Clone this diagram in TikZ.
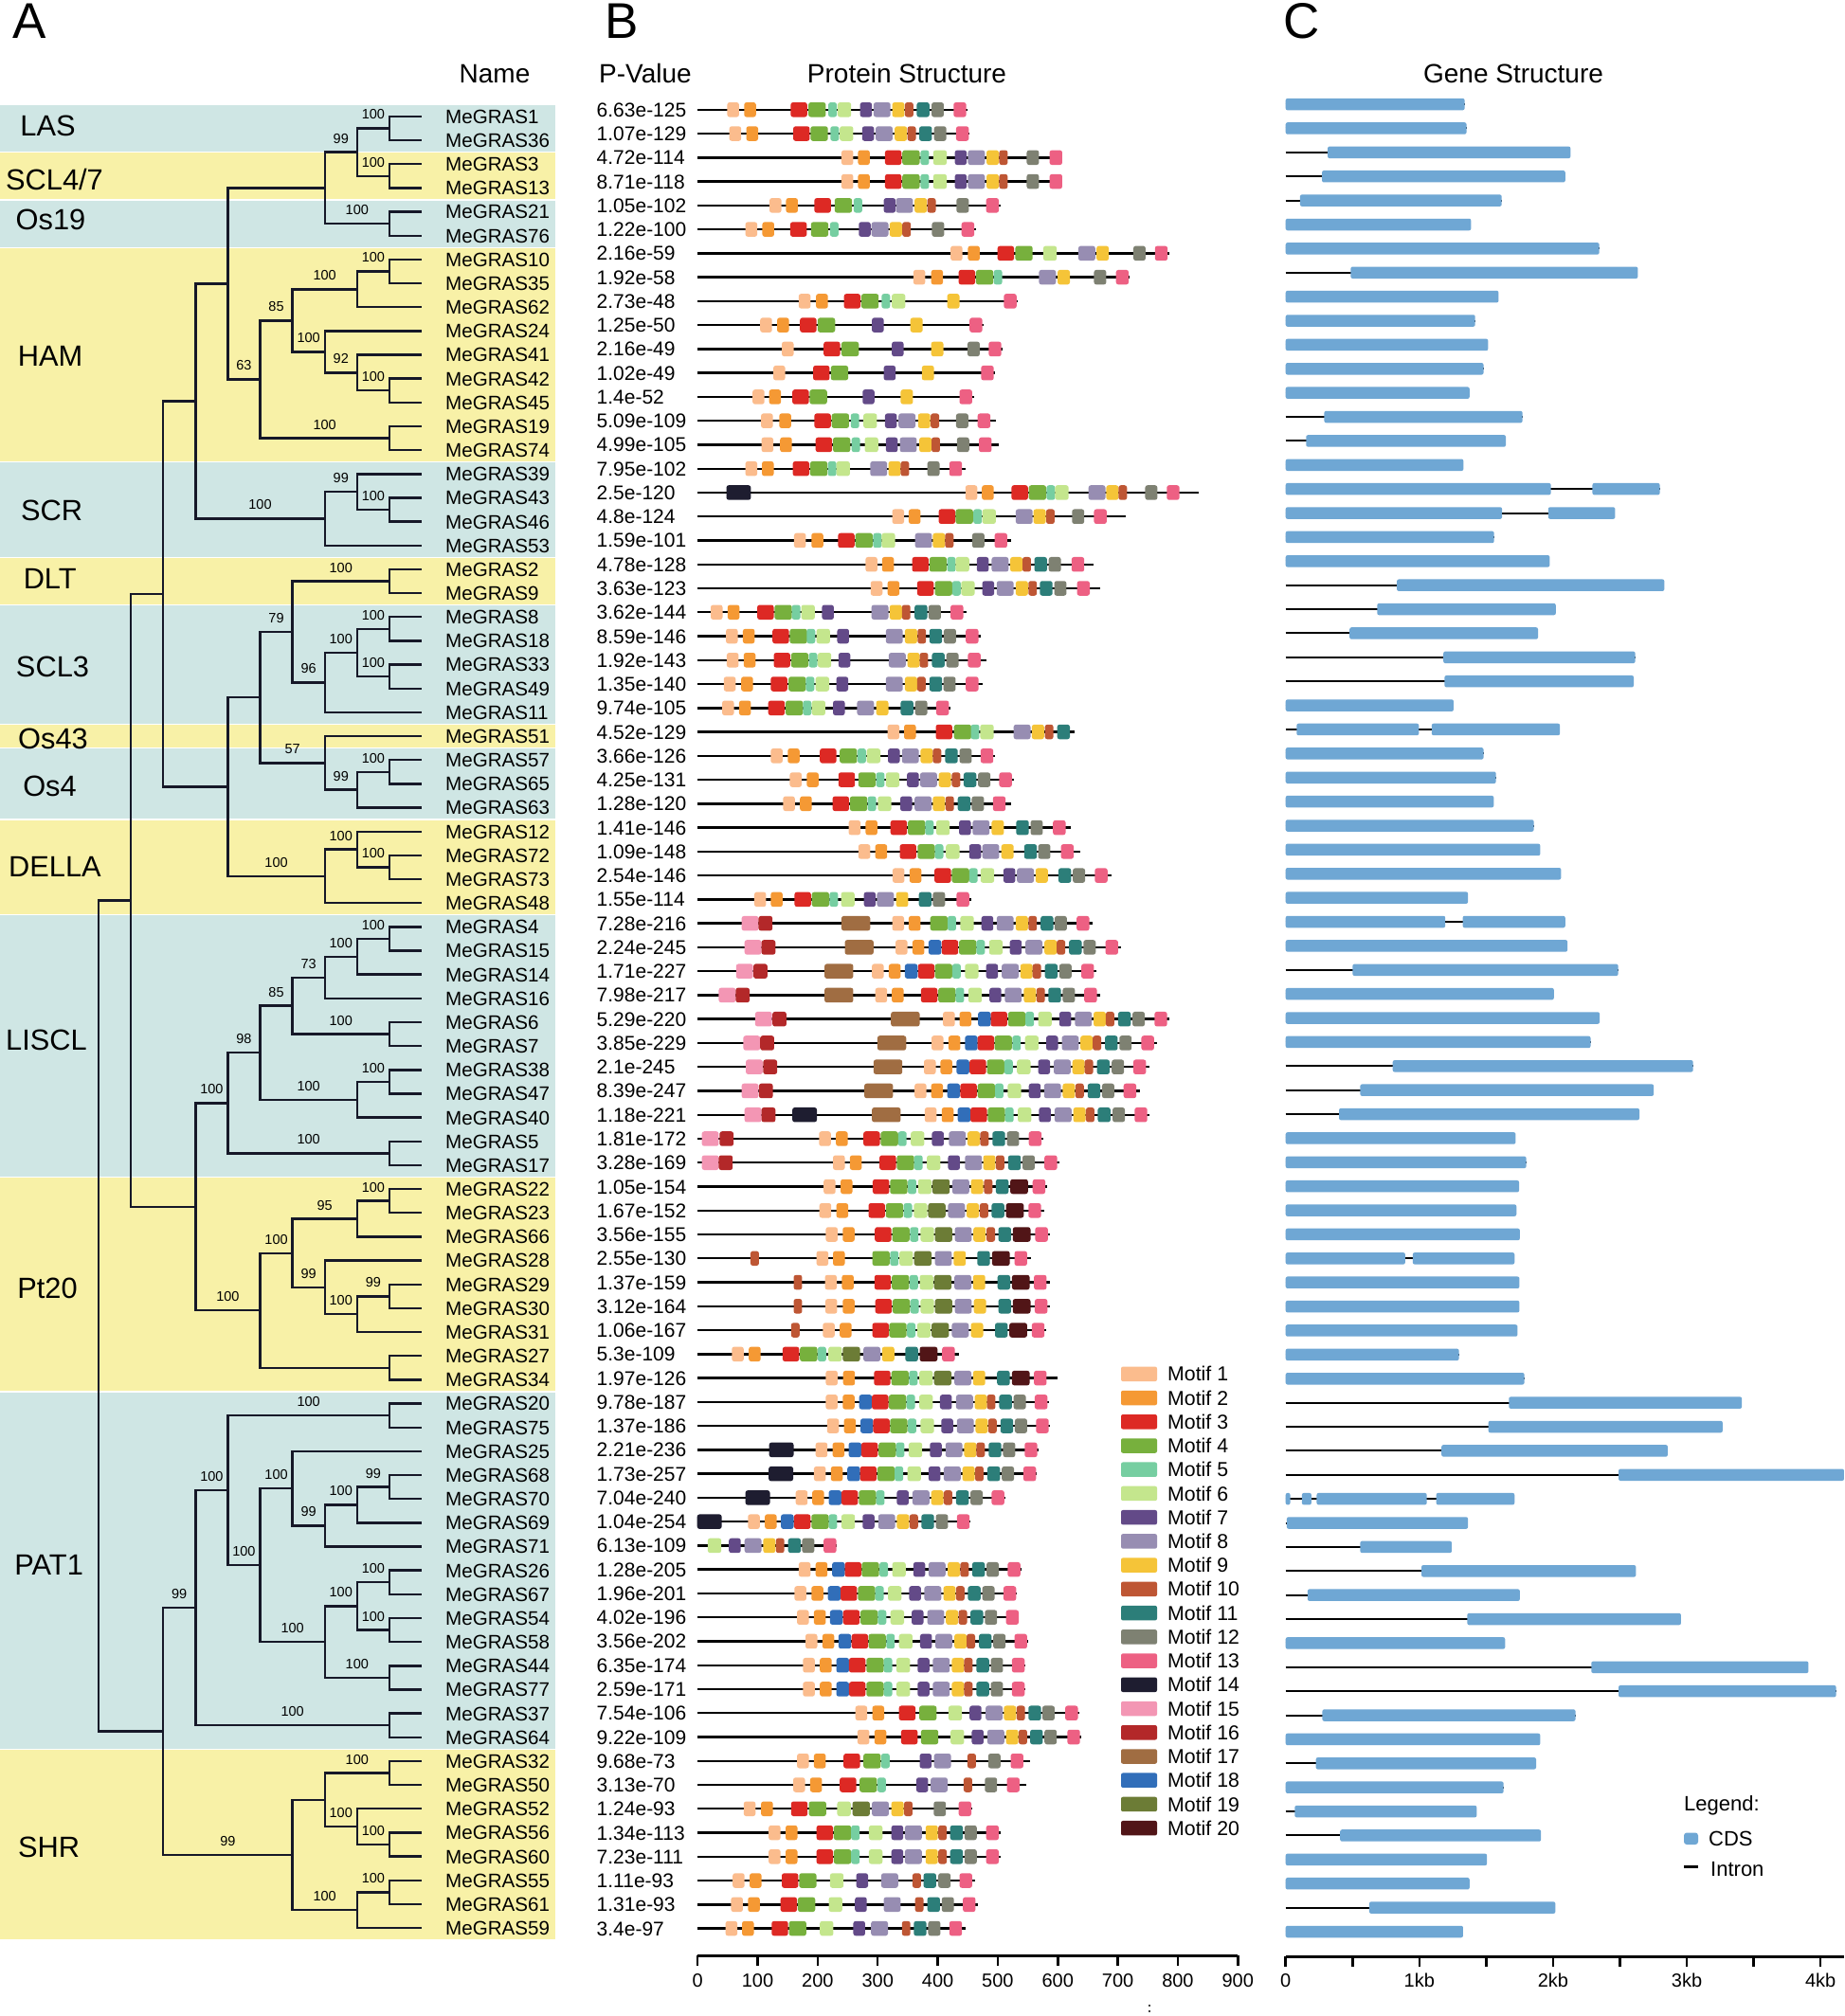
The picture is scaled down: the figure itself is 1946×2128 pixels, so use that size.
\documentclass[tikz,border=0pt]{standalone}
\usepackage{fontspec}
\setmainfont{Liberation Sans}
\definecolor{bandb}{RGB}{207,230,228}
\definecolor{bandy}{RGB}{248,241,167}
\definecolor{treec}{RGB}{22,24,40}
\definecolor{cdsc}{RGB}{111,167,212}
\definecolor{mc1}{RGB}{251,188,141}
\definecolor{mc2}{RGB}{245,153,52}
\definecolor{mc3}{RGB}{221,41,36}
\definecolor{mc4}{RGB}{119,176,61}
\definecolor{mc5}{RGB}{118,206,161}
\definecolor{mc6}{RGB}{196,230,141}
\definecolor{mc7}{RGB}{99,74,136}
\definecolor{mc8}{RGB}{151,141,178}
\definecolor{mc9}{RGB}{245,196,56}
\definecolor{mc10}{RGB}{190,86,52}
\definecolor{mc11}{RGB}{44,126,121}
\definecolor{mc12}{RGB}{126,129,114}
\definecolor{mc13}{RGB}{237,96,131}
\definecolor{mc14}{RGB}{30,29,48}
\definecolor{mc15}{RGB}{243,150,180}
\definecolor{mc16}{RGB}{179,40,41}
\definecolor{mc17}{RGB}{160,109,66}
\definecolor{mc18}{RGB}{49,110,185}
\definecolor{mc19}{RGB}{108,124,54}
\definecolor{mc20}{RGB}{81,21,23}
\newcommand\TNd[3]{\coordinate (#1) at ({Lx(#2)},{yN(#3)});}
\newcommand\TBr[3]{\draw[tree] (#1) -| (#2) |- (#3);}
\newcommand\TBl[4]{\node[bs] at ({(Lx(#1)+Lx(#2))/2},{yN(#3)-14.5}) {#4};}
\newcommand\ProtRow[3]{%
  \draw[pline] (736.2,{yP(#1)}) -- ({600+#2/2.24},{yP(#1)});
  \foreach \dx/\m in {#3}{%
    \pgfmathsetmacro\mw{{28,28,39,41,20,32,28,40,29,20,30,29,30,58,40,33,68,30,41,42}[\m-1]}%
    \fill[mc\m, rounded corners=2.5pt] ({600+\dx/2.24},{yP(#1)-7.75}) rectangle ++({\mw/2.24},15.5);
  }%
}
\newcommand\GeneRow[3]{%
  \draw[intronline] (1356.7,{yG(#1)}) -- ({1320+#2/2.505},{yG(#1)});
  \foreach \ga/\gb in {#3}{%
    \fill[cdsc, rounded corners=2pt] ({1320+\ga/2.505},{yG(#1)-6.25}) rectangle ({1320+\gb/2.505},{yG(#1)+6.25});
  }%
}
\begin{document}
\begin{tikzpicture}[x=1pt,y=-1pt,
  declare function={yN(\i)=122.9+25.16*\i; yP(\i)=115.8+25.26*\i; yG(\i)=110.1+25.38*\i; Lx(\k)=104+34.1*\k;},
  tree/.style={line width=2.4pt, draw=treec},
  pline/.style={line width=2.4pt, draw=black},
  intronline/.style={line width=2pt, draw=black},
  nm/.style={anchor=base west, inner sep=0pt, font=\fontsize{20.6}{22}\selectfont},
  pv/.style={anchor=base west, inner sep=0pt, font=\fontsize{21}{22}\selectfont},
  clab/.style={anchor=base, inner sep=0pt, font=\fontsize{30.8}{32}\selectfont},
  bs/.style={inner sep=0pt, font=\fontsize{14.5}{15}\selectfont},
  hdr/.style={anchor=base, inner sep=0pt, font=\fontsize{28}{30}\selectfont},
  panel/.style={anchor=base west, inner sep=0pt, font=\fontsize{53}{55}\selectfont},
  axl/.style={anchor=base, inner sep=0pt, font=\fontsize{20}{22}\selectfont},
  ml/.style={anchor=base west, inner sep=0pt, font=\fontsize{21.3}{23}\selectfont},
  gl/.style={anchor=base west, inner sep=0pt, font=\fontsize{22}{24}\selectfont},
  axisline/.style={line width=3pt, draw=black}]
\useasboundingbox (0,0) rectangle (1946,2128);
\fill[white] (0,0) rectangle (1946,2128);
% bands
\foreach \a/\b/\c in {0/1/bandb,2/3/bandy,4/5/bandb,6/14/bandy,15/18/bandb,19/20/bandy,21/25/bandb,26/26/bandy,27/29/bandb,30/33/bandy,34/44/bandb,45/53/bandy,54/68/bandb,69/76/bandy}{
  \fill[\c] (0,{yN(\a)-11.9}) rectangle (586,{yN(\b)+11.9});
}
% clade labels
\foreach \t/\x/\y in {LAS/50.5/132,SCL4{/}7/57.5/189,Os19/53.5/231.5,HAM/53/375,SCR/54.6/538,DLT/52.7/610,SCL3/55.5/703,Os43/56/779,Os4/52.5/829,DELLA/58/914.7,LISCL/49/1097.5,Pt20/50/1359,PAT1/51.7/1651,SHR/51.7/1949.5}{
  \node[clab] at (\x,{\y+11}) {\t};
}
% panel letters and headers
\node[panel] (pA) at (13.5,40.7) {A};
\node[panel] (pB) at (638,40.7) {B};
\node[panel] (pC) at (1354,40.7) {C};
\node[hdr] (hName) at (522,87.5) {Name};
\node[hdr] (hPV) at (681,87.5) {P-Value};
\node[hdr] (hPS) at (957,87.5) {Protein Structure};
\node[hdr] (hGS) at (1597,87.5) {Gene Structure};
% names
\foreach \n [count=\i from 0] in {MeGRAS1,MeGRAS36,MeGRAS3,MeGRAS13,MeGRAS21,MeGRAS76,MeGRAS10,MeGRAS35,MeGRAS62,MeGRAS24,MeGRAS41,MeGRAS42,MeGRAS45,MeGRAS19,MeGRAS74,MeGRAS39,MeGRAS43,MeGRAS46,MeGRAS53,MeGRAS2,MeGRAS9,MeGRAS8,MeGRAS18,MeGRAS33,MeGRAS49,MeGRAS11,MeGRAS51,MeGRAS57,MeGRAS65,MeGRAS63,MeGRAS12,MeGRAS72,MeGRAS73,MeGRAS48,MeGRAS4,MeGRAS15,MeGRAS14,MeGRAS16,MeGRAS6,MeGRAS7,MeGRAS38,MeGRAS47,MeGRAS40,MeGRAS5,MeGRAS17,MeGRAS22,MeGRAS23,MeGRAS66,MeGRAS28,MeGRAS29,MeGRAS30,MeGRAS31,MeGRAS27,MeGRAS34,MeGRAS20,MeGRAS75,MeGRAS25,MeGRAS68,MeGRAS70,MeGRAS69,MeGRAS71,MeGRAS26,MeGRAS67,MeGRAS54,MeGRAS58,MeGRAS44,MeGRAS77,MeGRAS37,MeGRAS64,MeGRAS32,MeGRAS50,MeGRAS52,MeGRAS56,MeGRAS60,MeGRAS55,MeGRAS61,MeGRAS59}{
  \node[nm] (nm\i) at (470,{yN(\i)+7.4}) {\n};
  \coordinate (l\i) at (445,{yN(\i)});
}
% p-values
\foreach \p [count=\i from 0] in {6.63e-125,1.07e-129,4.72e-114,8.71e-118,1.05e-102,1.22e-100,2.16e-59,1.92e-58,2.73e-48,1.25e-50,2.16e-49,1.02e-49,1.4e-52,5.09e-109,4.99e-105,7.95e-102,2.5e-120,4.8e-124,1.59e-101,4.78e-128,3.63e-123,3.62e-144,8.59e-146,1.92e-143,1.35e-140,9.74e-105,4.52e-129,3.66e-126,4.25e-131,1.28e-120,1.41e-146,1.09e-148,2.54e-146,1.55e-114,7.28e-216,2.24e-245,1.71e-227,7.98e-217,5.29e-220,3.85e-229,2.1e-245,8.39e-247,1.18e-221,1.81e-172,3.28e-169,1.05e-154,1.67e-152,3.56e-155,2.55e-130,1.37e-159,3.12e-164,1.06e-167,5.3e-109,1.97e-126,9.78e-187,1.37e-186,2.21e-236,1.73e-257,7.04e-240,1.04e-254,6.13e-109,1.28e-205,1.96e-201,4.02e-196,3.56e-202,6.35e-174,2.59e-171,7.54e-106,9.22e-109,9.68e-73,3.13e-70,1.24e-93,1.34e-113,7.23e-111,1.11e-93,1.31e-93,3.4e-97}{
  \node[pv] (pv\i) at (629.5,{yP(\i)+7.5}) {\p};
}
% tree
\TNd{a1}{9}{0.5} \TBr{l0}{a1}{l1} \TBl{8}{9}{0.5}{100}
\TNd{a2}{9}{2.5} \TBr{l2}{a2}{l3} \TBl{8}{9}{2.5}{100}
\TNd{a3}{8}{1.5} \TBr{a1}{a3}{a2} \TBl{7}{8}{1.5}{99}
\TNd{a4}{9}{4.5} \TBr{l4}{a4}{l5} \TBl{7}{9}{4.5}{100}
\TNd{a5}{7}{3} \TBr{a3}{a5}{a4}
\TNd{h1}{9}{6.5} \TBr{l6}{h1}{l7} \TBl{8}{9}{6.5}{100}
\TNd{h2}{8}{7.25} \TBr{h1}{h2}{l8} \TBl{6}{8}{7.25}{100}
\TNd{h3}{9}{11.5} \TBr{l11}{h3}{l12} \TBl{8}{9}{11.5}{100}
\TNd{h4}{8}{10.75} \TBr{l10}{h4}{h3} \TBl{7}{8}{10.75}{92}
\TNd{h5}{7}{9.875} \TBr{l9}{h5}{h4} \TBl{6}{7}{9.875}{100}
\TNd{h6}{6}{8.5625} \TBr{h2}{h6}{h5} \TBl{5}{6}{8.5625}{85}
\TNd{h7}{9}{13.5} \TBr{l13}{h7}{l14} \TBl{5}{9}{13.5}{100}
\TNd{h8}{5}{11.03125} \TBr{h6}{h8}{h7} \TBl{4}{5}{11.03125}{63}
\TNd{b1}{4}{7.015625} \TBr{a5}{b1}{h8}
\TNd{s1}{9}{16.5} \TBr{l16}{s1}{l17} \TBl{8}{9}{16.5}{100}
\TNd{s2}{8}{15.75} \TBr{l15}{s2}{s1} \TBl{7}{8}{15.75}{99}
\TNd{s3}{7}{16.875} \TBr{s2}{s3}{l18} \TBl{3}{7}{16.875}{100}
\TNd{b2}{3}{11.9453} \TBr{b1}{b2}{s3}
\TNd{d1}{9}{19.5} \TBr{l19}{d1}{l20} \TBl{6}{9}{19.5}{100}
\TNd{c1}{9}{21.5} \TBr{l21}{c1}{l22} \TBl{8}{9}{21.5}{100}
\TNd{c2}{9}{23.5} \TBr{l23}{c2}{l24} \TBl{8}{9}{23.5}{100}
\TNd{c4}{8}{22.5} \TBr{c1}{c4}{c2} \TBl{7}{8}{22.5}{100}
\TNd{c5}{7}{23.75} \TBr{c4}{c5}{l25} \TBl{6}{7}{23.75}{96}
\TNd{c3}{6}{21.625} \TBr{d1}{c3}{c5} \TBl{5}{6}{21.625}{79}
\TNd{o1}{9}{27.5} \TBr{l27}{o1}{l28} \TBl{8}{9}{27.5}{100}
\TNd{o2}{8}{28.25} \TBr{o1}{o2}{l29} \TBl{7}{8}{28.25}{99}
\TNd{o3}{7}{27.125} \TBr{l26}{o3}{o2} \TBl{5}{7}{27.125}{57}
\TNd{e1}{5}{24.375} \TBr{c3}{e1}{o3}
\TNd{g1}{9}{31.5} \TBr{l31}{g1}{l32} \TBl{8}{9}{31.5}{100}
\TNd{g2}{8}{30.75} \TBr{l30}{g2}{g1} \TBl{7}{8}{30.75}{100}
\TNd{g3}{7}{31.875} \TBr{g2}{g3}{l33} \TBl{4}{7}{31.875}{100}
\TNd{e2}{4}{28.125} \TBr{e1}{e2}{g3}
\TNd{b3}{2}{20.0352} \TBr{b2}{b3}{e2}
\TNd{i1}{9}{34.5} \TBr{l34}{i1}{l35} \TBl{8}{9}{34.5}{100}
\TNd{i2}{8}{35.25} \TBr{i1}{i2}{l36} \TBl{7}{8}{35.25}{100}
\TNd{i3}{7}{36.125} \TBr{i2}{i3}{l37} \TBl{6}{7}{36.125}{73}
\TNd{i4}{9}{38.5} \TBr{l38}{i4}{l39} \TBl{6}{9}{38.5}{100}
\TNd{i5}{6}{37.3125} \TBr{i3}{i5}{i4} \TBl{5}{6}{37.3125}{85}
\TNd{i6}{9}{40.5} \TBr{l40}{i6}{l41} \TBl{8}{9}{40.5}{100}
\TNd{i7}{8}{41.25} \TBr{i6}{i7}{l42} \TBl{5}{8}{41.25}{100}
\TNd{i8}{5}{39.28125} \TBr{i5}{i8}{i7} \TBl{4}{5}{39.28125}{98}
\TNd{i9}{9}{43.5} \TBr{l43}{i9}{l44} \TBl{4}{9}{43.5}{100}
\TNd{i10}{4}{41.390625} \TBr{i8}{i10}{i9} \TBl{3}{4}{41.390625}{100}
\TNd{p1}{9}{45.5} \TBr{l45}{p1}{l46} \TBl{8}{9}{45.5}{100}
\TNd{p2}{8}{46.25} \TBr{p1}{p2}{l47} \TBl{6}{8}{46.25}{95}
\TNd{p3}{9}{49.5} \TBr{l49}{p3}{l50} \TBl{8}{9}{49.5}{99}
\TNd{p4}{8}{50.25} \TBr{p3}{p4}{l51} \TBl{7}{8}{50.25}{100}
\TNd{p5}{7}{49.125} \TBr{l48}{p5}{p4} \TBl{6}{7}{49.125}{99}
\TNd{p6}{6}{47.6875} \TBr{p2}{p6}{p5} \TBl{5}{6}{47.6875}{100}
\TNd{p7}{9}{52.5} \TBr{l52}{p7}{l53}
\TNd{p8}{5}{50.09375} \TBr{p6}{p8}{p7} \TBl{3}{5}{50.09375}{100}
\TNd{p0}{3}{45.7422} \TBr{i10}{p0}{p8}
\TNd{r1}{1}{32.8887} \TBr{b3}{r1}{p0}
\TNd{t1}{9}{54.5} \TBr{l54}{t1}{l55} \TBl{4}{9}{54.5}{100}
\TNd{t2}{9}{57.5} \TBr{l57}{t2}{l58} \TBl{8}{9}{57.5}{99}
\TNd{t3}{8}{58.25} \TBr{t2}{t3}{l59} \TBl{7}{8}{58.25}{100}
\TNd{t4}{7}{59.125} \TBr{t3}{t4}{l60} \TBl{6}{7}{59.125}{99}
\TNd{t5}{6}{57.5625} \TBr{l56}{t5}{t4} \TBl{5}{6}{57.5625}{100}
\TNd{t6}{9}{61.5} \TBr{l61}{t6}{l62} \TBl{8}{9}{61.5}{100}
\TNd{t7}{9}{63.5} \TBr{l63}{t7}{l64} \TBl{8}{9}{63.5}{100}
\TNd{t6b}{8}{62.5} \TBr{t6}{t6b}{t7} \TBl{7}{8}{62.5}{100}
\TNd{t10}{9}{65.5} \TBr{l65}{t10}{l66} \TBl{7}{9}{65.5}{100}
\TNd{t11}{7}{64} \TBr{t6b}{t11}{t10} \TBl{5}{7}{64}{100}
\TNd{t8}{5}{60.78125} \TBr{t5}{t8}{t11} \TBl{4}{5}{60.78125}{100}
\TNd{t9}{4}{57.640625} \TBr{t1}{t9}{t8} \TBl{3}{4}{57.640625}{100}
\TNd{t12}{9}{67.5} \TBr{l67}{t12}{l68} \TBl{3}{9}{67.5}{100}
\TNd{t13}{3}{62.5703} \TBr{t9}{t13}{t12} \TBl{2}{3}{62.5703}{99}
\TNd{u1}{9}{69.5} \TBr{l69}{u1}{l70} \TBl{7}{9}{69.5}{100}
\TNd{u2}{9}{72.5} \TBr{l72}{u2}{l73} \TBl{8}{9}{72.5}{100}
\TNd{u3}{8}{71.75} \TBr{l71}{u3}{u2} \TBl{7}{8}{71.75}{100}
\TNd{u4}{7}{70.625} \TBr{u1}{u4}{u3}
\TNd{u5}{9}{74.5} \TBr{l74}{u5}{l75} \TBl{8}{9}{74.5}{100}
\TNd{u6}{8}{75.25} \TBr{u5}{u6}{l76} \TBl{6}{8}{75.25}{100}
\TNd{u7}{6}{72.9375} \TBr{u4}{u7}{u6} \TBl{2}{6}{72.9375}{99}
\TNd{q0}{2}{67.7539} \TBr{t13}{q0}{u7}
\TNd{root}{0}{50.3213} \TBr{r1}{root}{q0}
% protein structures
\ProtRow{0}{943}{375/1,415/2,525/3,567/4,614/5,636/6,689/7,721/8,765/9,795/10,823/11,858/12,910/13}
\ProtRow{1}{948}{380/1,420/2,531/3,572/4,619/5,641/6,694/7,726/8,771/9,801/10,829/11,864/12,916/13}
\ProtRow{2}{1168}{645/1,684/2,748/3,789/4,832/5,862/6,913/7,944/8,988/9,1018/10,1083/12,1137/13}
\ProtRow{3}{1168}{645/1,684/2,748/3,789/4,832/5,862/6,913/7,944/8,988/9,1018/10,1083/12,1137/13}
\ProtRow{4}{1022}{475/1,514/2,581/3,629/4,674/5,745/7,774/8,818/9,848/10,917/12,987/13}
\ProtRow{5}{963}{418/1,458/2,524/3,573/4,618/5,686/7,716/8,759/9,789/10,859/12,929/13}
\ProtRow{6}{1420}{903/1,944/2,1014/3,1056/4,1122/6,1205/8,1248/9,1335/12,1386/13}
\ProtRow{7}{1326}{815/1,857/2,922/3,963/4,1005/5,1112/8,1156/9,1242/12,1294/13}
\ProtRow{8}{1062}{544/1,585/2,651/3,692/4,740/5,764/6,895/9,1029/13}
\ProtRow{9}{980}{453/1,493/2,547/3,589/4,717/7,808/9,948/13}
\ProtRow{10}{1025}{504/1,603/3,645/4,764/7,857/9,943/12,993/13}
\ProtRow{11}{1008}{484/1,578/3,620/4,745/7,835/9,975/13}
\ProtRow{12}{958}{435/1,474/2,529/3,570/4,695/7,785/9,924/13}
\ProtRow{13}{1010}{455/1,498/2,581/3,622/4,667/5,697/6,748/7,780/8,826/9,856/10,916/12,967/13}
\ProtRow{14}{1017}{456/1,500/2,584/3,625/4,669/5,700/6,750/7,783/8,829/9,858/10,918/12,970/13}
\ProtRow{15}{938}{418/1,457/2,530/3,571/4,613/5,633/6,713/8,756/9,785/10,848/12,900/13}
\ProtRow{16}{1490}{373/14,938/1,977/2,1047/3,1088/4,1130/5,1150/6,1229/8,1271/9,1300/10,1363/12,1414/13}
\ProtRow{17}{1316}{765/1,804/2,875/3,915/4,957/5,978/6,1057/8,1099/9,1129/10,1190/12,1242/13}
\ProtRow{18}{1046}{533/1,574/2,637/3,678/4,720/5,740/6,819/8,861/9,890/10,954/12,1007/13}
\ProtRow{19}{1242}{702/1,741/2,812/3,853/4,895/5,915/6,965/7,1000/8,1044/9,1073/10,1101/11,1135/12,1189/13}
\ProtRow{20}{1256}{714/1,754/2,824/3,866/4,907/5,928/6,978/7,1012/8,1057/9,1087/10,1114/11,1148/12,1202/13}
\ProtRow{21}{940}{336/1,376/2,446/3,487/4,528/5,550/6,599/7,716/8,759/9,788/10,818/11,851/12,903/13}
\ProtRow{22}{975}{372/1,412/2,482/3,523/4,563/5,586/6,635/7,750/8,795/9,825/10,853/11,887/12,939/13}
\ProtRow{23}{987}{374/1,414/2,485/3,526/4,568/5,589/6,638/7,757/8,801/9,830/10,859/11,893/12,944/13}
\ProtRow{24}{978}{367/1,408/2,478/3,520/4,561/5,584/6,633/7,750/8,795/9,824/10,853/11,886/12,939/13}
\ProtRow{25}{902}{363/1,403/2,472/3,513/4,554/5,575/6,625/7,682/8,727/9,785/11,819/12,869/13}
\ProtRow{26}{1196}{754/1,793/2,868/3,911/4,951/5,973/6,1052/8,1095/9,1126/10,1155/11}
\ProtRow{27}{1008}{478/1,518/2,594/3,641/4,683/5,705/6,755/7,788/8,832/9,861/10,890/11,924/12,974/13}
\ProtRow{28}{1052}{523/1,563/2,638/3,685/4,727/5,750/6,800/7,831/8,875/9,906/10,934/11,968/12,1018/13}
\ProtRow{29}{1045}{507/1,547/2,624/3,665/4,707/5,731/6,784/7,818/8,861/9,891/10,920/11,953/12,1003/13}
\ProtRow{30}{1188}{662/1,702/2,761/3,802/4,843/5,869/6,923/7,955/8,1000/9,1058/11,1092/12,1145/13}
\ProtRow{31}{1210}{685/1,725/2,783/3,825/4,866/5,892/6,947/7,978/8,1023/9,1077/11,1110/12,1164/13}
\ProtRow{32}{1283}{766/1,806/2,865/3,906/4,947/5,974/6,1028/7,1060/8,1104/9,1158/11,1192/12,1244/13}
\ProtRow{33}{953}{439/1,478/2,534/3,575/4,617/5,644/6,698/7,729/8,774/9,828/11,861/12,917/13}
\ProtRow{34}{1238}{409/15,449/16,645/17,765/1,804/2,855/4,896/5,926/6,976/7,1012/8,1057/9,1087/10,1116/11,1149/12,1201/13}
\ProtRow{35}{1305}{416/15,456/16,653/17,773/1,813/2,851/18,882/3,923/4,964/5,994/6,1043/7,1080/8,1125/9,1154/10,1183/11,1217/12,1269/13}
\ProtRow{36}{1248}{396/15,437/16,605/17,717/1,757/2,795/18,826/3,866/4,907/5,937/6,987/7,1024/8,1068/9,1097/10,1126/11,1160/12,1212/13}
\ProtRow{37}{1256}{355/15,395/16,605/17,725/1,764/2,833/3,874/4,915/5,945/6,995/7,1031/8,1076/9,1106/10,1134/11,1168/12,1219/13}
\ProtRow{38}{1420}{441/15,482/16,762/17,885/1,924/2,968/18,998/3,1039/4,1080/5,1110/6,1160/7,1197/8,1241/9,1270/10,1299/11,1333/12,1385/13}
\ProtRow{39}{1390}{413/15,453/16,730/17,858/1,898/2,937/18,967/3,1007/4,1049/5,1079/6,1129/7,1166/8,1210/9,1239/10,1268/11,1302/12,1354/13}
\ProtRow{40}{1372}{419/15,460/16,721/17,840/1,879/2,917/18,948/3,989/4,1030/5,1060/6,1110/7,1147/8,1191/9,1220/10,1249/11,1284/12,1335/13}
\ProtRow{41}{1350}{409/15,450/16,699/17,818/1,857/2,895/18,926/3,967/4,1008/5,1038/6,1088/7,1124/8,1168/9,1198/10,1227/11,1261/12,1312/13}
\ProtRow{42}{1372}{416/15,456/16,529/14,717/17,842/1,882/2,920/18,950/3,991/4,1032/5,1062/6,1112/7,1149/8,1193/9,1223/10,1251/11,1286/12,1338/13}
\ProtRow{43}{1122}{315/15,357/16,592/1,632/2,697/3,738/4,779/5,809/6,859/7,899/8,943/9,973/10,1002/11,1036/12,1088/13}
\ProtRow{44}{1160}{315/15,355/16,625/1,665/2,735/3,776/4,817/5,847/6,897/7,937/8,980/9,1010/10,1039/11,1073/12,1125/13}
\ProtRow{45}{1132}{603/1,643/2,719/3,760/4,802/5,826/6,860/19,907/8,951/9,982/10,1010/11,1044/20,1097/13}
\ProtRow{46}{1124}{593/1,633/2,709/3,750/4,792/5,816/6,850/19,897/8,941/9,972/10,1000/11,1034/20,1087/13}
\ProtRow{47}{1138}{608/1,648/2,724/3,765/4,807/5,832/6,866/19,913/8,957/9,988/10,1016/11,1050/20,1103/13}
\ProtRow{48}{1093}{430/10,586/1,625/2,718/4,760/5,782/6,817/19,866/8,910/9,966/11,1001/20,1054/13}
\ProtRow{49}{1137}{532/10,606/1,646/2,723/3,764/4,806/5,830/6,864/19,912/8,956/9,1014/11,1048/20,1100/13}
\ProtRow{50}{1138}{532/10,607/1,648/2,725/3,766/4,808/5,832/6,866/19,913/8,958/9,1016/11,1050/20,1102/13}
\ProtRow{51}{1130}{526/10,601/1,641/2,718/3,758/4,800/5,824/6,858/19,906/8,951/9,1008/11,1042/20,1095/13}
\ProtRow{52}{922}{386/1,426/2,506/3,547/4,589/5,614/6,648/19,697/8,741/9,796/11,830/20,883/13}
\ProtRow{53}{1155}{608/1,649/2,722/3,763/4,805/5,829/6,864/19,912/8,956/9,1013/11,1048/20,1100/13}
\ProtRow{54}{1135}{608/1,648/2,687/18,717/3,757/4,799/5,829/6,878/7,916/8,960/9,989/10,1018/11,1052/12,1102/13}
\ProtRow{55}{1138}{611/1,651/2,690/18,720/3,760/4,802/5,832/6,881/7,918/8,962/9,992/10,1021/11,1055/12,1105/13}
\ProtRow{56}{1110}{474/14,584/1,624/2,662/18,692/3,733/4,774/5,804/6,854/7,891/8,935/9,964/10,993/11,1027/12,1078/13}
\ProtRow{57}{1107}{473/14,580/1,620/2,659/18,689/3,730/4,771/5,801/6,851/7,887/8,931/9,961/10,990/11,1024/12,1075/13}
\ProtRow{58}{1032}{418/14,537/1,576/2,615/18,645/3,686/4,727/5,776/7,813/8,857/9,887/10,916/11,950/12,1000/13}
\ProtRow{59}{950}{304/14,424/1,464/2,502/18,533/3,574/4,615/5,645/6,695/7,732/8,776/9,806/10,834/11,868/12,918/13}
\ProtRow{60}{633}{329/6,379/7,416/8,460/9,490/10,519/11,552/12,603/13}
\ProtRow{61}{1070}{544/1,584/2,623/18,653/3,693/4,735/5,765/6,815/7,851/8,896/9,926/10,954/11,988/12,1038/13}
\ProtRow{62}{1060}{534/1,574/2,613/18,643/3,684/4,725/5,755/6,805/7,841/8,886/9,916/10,944/11,978/12,1028/13}
\ProtRow{63}{1065}{540/1,580/2,618/18,649/3,690/4,731/5,761/6,811/7,848/8,892/9,922/10,950/11,984/12,1034/13}
\ProtRow{64}{1087}{560/1,600/2,638/18,669/3,709/4,751/5,781/6,831/7,867/8,912/9,941/10,970/11,1004/12,1054/13}
\ProtRow{65}{1080}{554/1,594/2,633/18,663/3,704/4,745/5,775/6,825/7,861/8,906/9,935/10,964/11,998/12,1048/13}
\ProtRow{66}{1080}{554/1,594/2,633/18,663/3,704/4,745/5,775/6,825/7,861/8,906/9,935/10,964/11,998/12,1048/13}
\ProtRow{67}{1207}{678/1,718/2,781/3,829/4,898/6,948/7,986/8,1029/9,1059/10,1087/11,1120/12,1174/13}
\ProtRow{68}{1211}{683/1,723/2,786/3,833/4,903/6,953/7,990/8,1034/9,1064/10,1091/11,1125/12,1179/13}
\ProtRow{69}{1090}{540/1,580/2,650/3,697/4,739/5,830/7,864/8,943/10,992/12,1045/13}
\ProtRow{70}{1081}{531/1,571/2,641/3,688/4,730/5,822/7,856/8,934/10,984/12,1036/13}
\ProtRow{71}{955}{414/1,455/2,526/3,568/4,635/6,671/19,717/8,763/9,793/10,863/12,922/13}
\ProtRow{72}{1022}{473/1,513/2,586/3,627/4,668/5,710/6,763/7,795/8,844/9,874/10,902/11,936/12,987/13}
\ProtRow{73}{1022}{473/1,513/2,586/3,627/4,668/5,710/6,763/7,795/8,844/9,874/10,902/11,936/12,987/13}
\ProtRow{74}{960}{388/1,428/2,504/3,545/4,618/6,680/7,739/8,813/10,839/11,874/12,924/13}
\ProtRow{75}{968}{384/1,424/2,501/3,542/4,615/6,677/7,745/8,819/10,848/11,882/12,932/13}
\ProtRow{76}{938}{371/1,410/2,480/3,521/4,594/6,673/7,715/8,788/10,816/11,850/12,900/13}
% protein axis
\draw[axisline] (736.2,2064) -- (1306.3,2064);
\foreach \k/\lab in {0/0,1/100,2/200,3/300,4/400,5/500,6/600,7/700,8/800,9/900}{
  \draw[line width=2.5pt] ({736.2+63.34*\k},2064) -- ++(0,11);
  \node[axl] at ({736.2+63.34*\k},2097) {\lab};
}
\fill (1213,2117) circle (1.1);
\fill (1213,2123) circle (1.1);
% motif legend
\foreach \k in {1,...,20}{
  \fill[mc\k, rounded corners=2pt] (1183,{1450.3+25.23*(\k-1)-7.75}) rectangle ++(38,15.5);
  \node[ml] (ml\k) at (1232,{1450.3+25.23*(\k-1)+7.6}) {Motif \k};
}
% gene structures
\GeneRow{0}{565}{92/565}
\GeneRow{1}{570}{92/570}
\GeneRow{2}{845}{203/845}
\GeneRow{3}{831}{188/831}
\GeneRow{4}{663}{130/663}
\GeneRow{5}{582}{92/582}
\GeneRow{6}{921}{92/921}
\GeneRow{7}{1023}{264/1023}
\GeneRow{8}{655}{92/655}
\GeneRow{9}{593}{92/593}
\GeneRow{10}{627}{92/627}
\GeneRow{11}{615}{92/615}
\GeneRow{12}{578}{92/578}
\GeneRow{13}{718}{194/718}
\GeneRow{14}{674}{146/674}
\GeneRow{15}{562}{92/562}
\GeneRow{16}{1081}{92/793,903/1081}
\GeneRow{17}{963}{92/664,786/963}
\GeneRow{18}{643}{92/643}
\GeneRow{19}{790}{92/790}
\GeneRow{20}{1093}{386/1093}
\GeneRow{21}{806}{334/806}
\GeneRow{22}{759}{261/759}
\GeneRow{23}{1016}{509/1016}
\GeneRow{24}{1012}{512/1012}
\GeneRow{25}{536}{92/536}
\GeneRow{26}{817}{121/444,478/817}
\GeneRow{27}{615}{92/615}
\GeneRow{28}{648}{92/648}
\GeneRow{29}{642}{92/642}
\GeneRow{30}{748}{92/748}
\GeneRow{31}{765}{92/765}
\GeneRow{32}{820}{92/820}
\GeneRow{33}{574}{92/574}
\GeneRow{34}{831}{92/514,560/831}
\GeneRow{35}{837}{92/837}
\GeneRow{36}{971}{269/971}
\GeneRow{37}{801}{92/801}
\GeneRow{38}{922}{92/922}
\GeneRow{39}{898}{92/898}
\GeneRow{40}{1169}{375/1169}
\GeneRow{41}{1065}{289/1065}
\GeneRow{42}{1027}{233/1027}
\GeneRow{43}{700}{92/700}
\GeneRow{44}{728}{92/728}
\GeneRow{45}{709}{92/709}
\GeneRow{46}{702}{92/702}
\GeneRow{47}{711}{92/711}
\GeneRow{48}{697}{92/408,428/697}
\GeneRow{49}{710}{92/710}
\GeneRow{50}{710}{92/710}
\GeneRow{51}{705}{92/705}
\GeneRow{52}{550}{92/550}
\GeneRow{53}{723}{92/723}
\GeneRow{54}{1298}{682/1298}
\GeneRow{55}{1247}{628/1247}
\GeneRow{56}{1102}{504/1102}
\GeneRow{57}{1568}{972/1568}
\GeneRow{58}{697}{92/104,135/160,174/465,490/697}
\GeneRow{59}{574}{95/574}
\GeneRow{60}{531}{289/531}
\GeneRow{61}{1018}{451/1018}
\GeneRow{62}{711}{150/711}
\GeneRow{63}{1137}{572/1137}
\GeneRow{64}{672}{92/672}
\GeneRow{65}{1474}{900/1474}
\GeneRow{66}{1547}{972/1547}
\GeneRow{67}{858}{189/858}
\GeneRow{68}{765}{92/765}
\GeneRow{69}{754}{172/754}
\GeneRow{70}{668}{92/668}
\GeneRow{71}{597}{116/597}
\GeneRow{72}{767}{236/767}
\GeneRow{73}{624}{92/624}
\GeneRow{74}{578}{92/578}
\GeneRow{75}{805}{313/805}
\GeneRow{76}{561}{92/561}
% gene axis
\draw[axisline] (1356.7,2065) -- (1946,2065);
\foreach \j in {0,...,8}{
  \draw[line width=2.5pt] ({1356.7+70.55*\j},2065) -- ++(0,11);
}
\foreach \k/\lab in {0/0,1/1kb,2/2kb,3/3kb,4/4kb}{
  \node[axl] at ({1356.7+141.1*\k},2097) {\lab};
}
% gene legend
\node[gl] (lgd) at (1777,1911) {Legend:};
\fill[cdsc, rounded corners=3pt] (1777,1934.5) rectangle (1792,1947);
\node[gl] (lcds) at (1803,1948.6) {CDS};
\draw[line width=3pt] (1777,1970.5) -- (1792,1970.5);
\node[gl] (lint) at (1805,1980) {Intron};
\end{tikzpicture}
\end{document}
